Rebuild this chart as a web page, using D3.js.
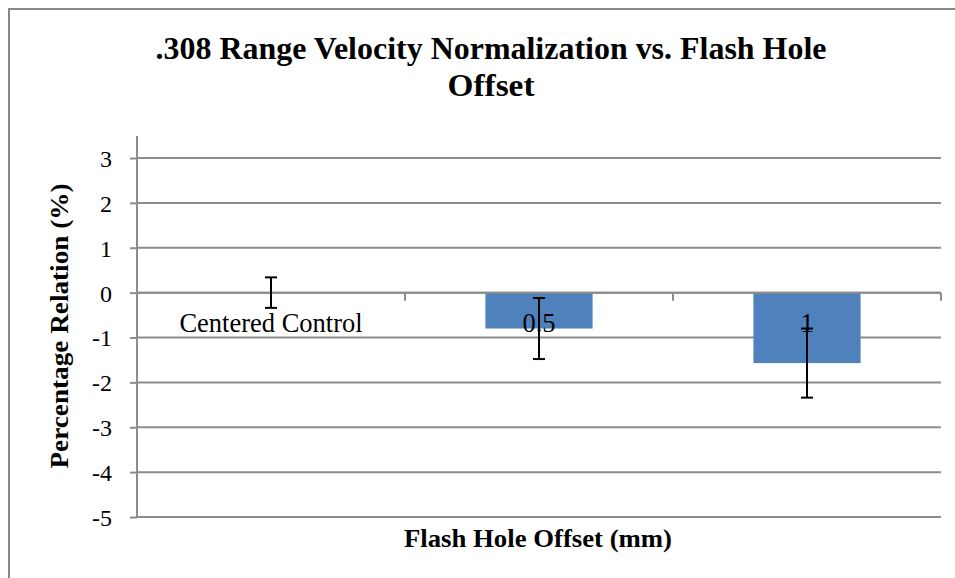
<!DOCTYPE html>
<html>
<head>
    <meta charset="utf-8">
    <title>.308 Range Velocity Normalization</title>
    <script src="https://d3js.org/d3.v7.min.js"></script>
    <style type="text/css">
        body { margin: 0; background: #fff; }
    </style>
</head>
<body>
    <script type="text/javascript">
        // chart data
        let categories = ["Centered Control", "0.5", "1"];
        let values = [0, -0.80, -1.57];
        let errors = [0.34, 0.68, 0.77];
        let yTicks = [3, 2, 1, 0, -1, -2, -3, -4, -5];

        let width = 955, height = 578;
        let plotLeft = 137, plotRight = 941, plotTop = 158, plotBottom = 517;
        let serif = '"Liberation Serif", "Times New Roman", serif';
        let gridColor = "#8c8c8c";

        let svg = d3.select("body").append("svg")
            .attr("width", width)
            .attr("height", height);

        // outer frame (runs off the right / bottom edge)
        svg.append("path")
            .attr("d", "M9,590 L9,9 L970,9")
            .style("fill", "none")
            .style("stroke", "#888")
            .style("stroke-width", 2);

        let x = d3.scaleBand()
            .domain(categories)
            .range([plotLeft, plotRight])
            .paddingInner(0.6)
            .paddingOuter(0.3);

        let y = d3.scaleLinear()
            .domain([-5, 3])
            .range([plotBottom, plotTop]);

        // gridlines
        svg.append("g")
            .selectAll("line")
            .data(yTicks)
            .join("line")
            .attr("x1", plotLeft)
            .attr("x2", plotRight)
            .attr("y1", d => y(d))
            .attr("y2", d => y(d))
            .style("stroke", gridColor)
            .style("stroke-width", 2);

        // y axis
        let yAxis = svg.append("g")
            .attr("transform", `translate(${plotLeft},0)`)
            .call(d3.axisLeft(y).tickValues(yTicks).tickSize(7).tickSizeOuter(0).tickPadding(18)
                .tickFormat(d => String(d)));
        yAxis.select(".domain").attr("d", `M0,${plotTop - 22}V${plotBottom}`);
        yAxis.selectAll("line, .domain").style("stroke", gridColor).style("stroke-width", 2);
        yAxis.selectAll("text")
            .style("font-family", serif)
            .style("font-size", "24px")
            .style("fill", "#000")
            .attr("dy", "0.35em");

        // bars
        svg.append("g")
            .selectAll("rect")
            .data(values)
            .join("rect")
            .attr("x", (d, i) => x(categories[i]))
            .attr("width", x.bandwidth())
            .attr("y", d => y(Math.max(0, d)))
            .attr("height", d => Math.abs(y(d) - y(0)))
            .style("fill", "#4f81bd");

        // x axis at zero, tick marks at category boundaries
        let bounds = d3.range(categories.length + 1).map(i => plotLeft + i * x.step());
        svg.append("line")
            .attr("x1", plotLeft).attr("x2", plotRight)
            .attr("y1", y(0)).attr("y2", y(0))
            .style("stroke", gridColor).style("stroke-width", 2);
        svg.append("g")
            .selectAll("line")
            .data(bounds.slice(1))
            .join("line")
            .attr("x1", d => d).attr("x2", d => d)
            .attr("y1", y(0)).attr("y2", y(0) + 8)
            .style("stroke", gridColor).style("stroke-width", 2);

        // category labels next to the zero axis
        svg.append("g")
            .selectAll("text")
            .data(categories)
            .join("text")
            .attr("x", d => x(d) + x.bandwidth() / 2)
            .attr("y", y(0) + 39)
            .attr("text-anchor", "middle")
            .style("font-family", serif)
            .style("font-size", "26.5px")
            .text(d => d);

        // error bars
        let eb = svg.append("g")
            .selectAll("g")
            .data(values)
            .join("g")
            .attr("transform", (d, i) => `translate(${x(categories[i]) + x.bandwidth() / 2},0)`);
        eb.append("line")
            .attr("y1", (d, i) => y(d + errors[i]))
            .attr("y2", (d, i) => y(d - errors[i]));
        eb.append("line")
            .attr("x1", -6).attr("x2", 6)
            .attr("y1", (d, i) => y(d + errors[i]))
            .attr("y2", (d, i) => y(d + errors[i]));
        eb.append("line")
            .attr("x1", -6).attr("x2", 6)
            .attr("y1", (d, i) => y(d - errors[i]))
            .attr("y2", (d, i) => y(d - errors[i]));
        eb.selectAll("line").style("stroke", "#000").style("stroke-width", 2);

        // titles (Word's bold Times renders narrow, so squeeze to its width)
        let title = svg.append("text")
            .attr("text-anchor", "middle")
            .style("font-family", serif)
            .style("font-size", "31px")
            .style("font-weight", "bold");
        title.append("tspan").attr("x", 491).attr("y", 59)
            .attr("textLength", 671).attr("lengthAdjust", "spacingAndGlyphs")
            .text(".308 Range Velocity Normalization vs. Flash Hole");
        title.append("tspan").attr("x", 491).attr("y", 96)
            .attr("textLength", 87).attr("lengthAdjust", "spacingAndGlyphs")
            .text("Offset");

        svg.append("text")
            .attr("x", 538)
            .attr("y", 547)
            .attr("text-anchor", "middle")
            .attr("textLength", 268).attr("lengthAdjust", "spacingAndGlyphs")
            .style("font-family", serif)
            .style("font-size", "25px")
            .style("font-weight", "bold")
            .text("Flash Hole Offset (mm)");

        svg.append("text")
            .attr("transform", "translate(68,326) rotate(-90)")
            .attr("text-anchor", "middle")
            .attr("textLength", 285).attr("lengthAdjust", "spacingAndGlyphs")
            .style("font-family", serif)
            .style("font-size", "25px")
            .style("font-weight", "bold")
            .text("Percentage Relation (%)");
    </script>
</body>
</html>
